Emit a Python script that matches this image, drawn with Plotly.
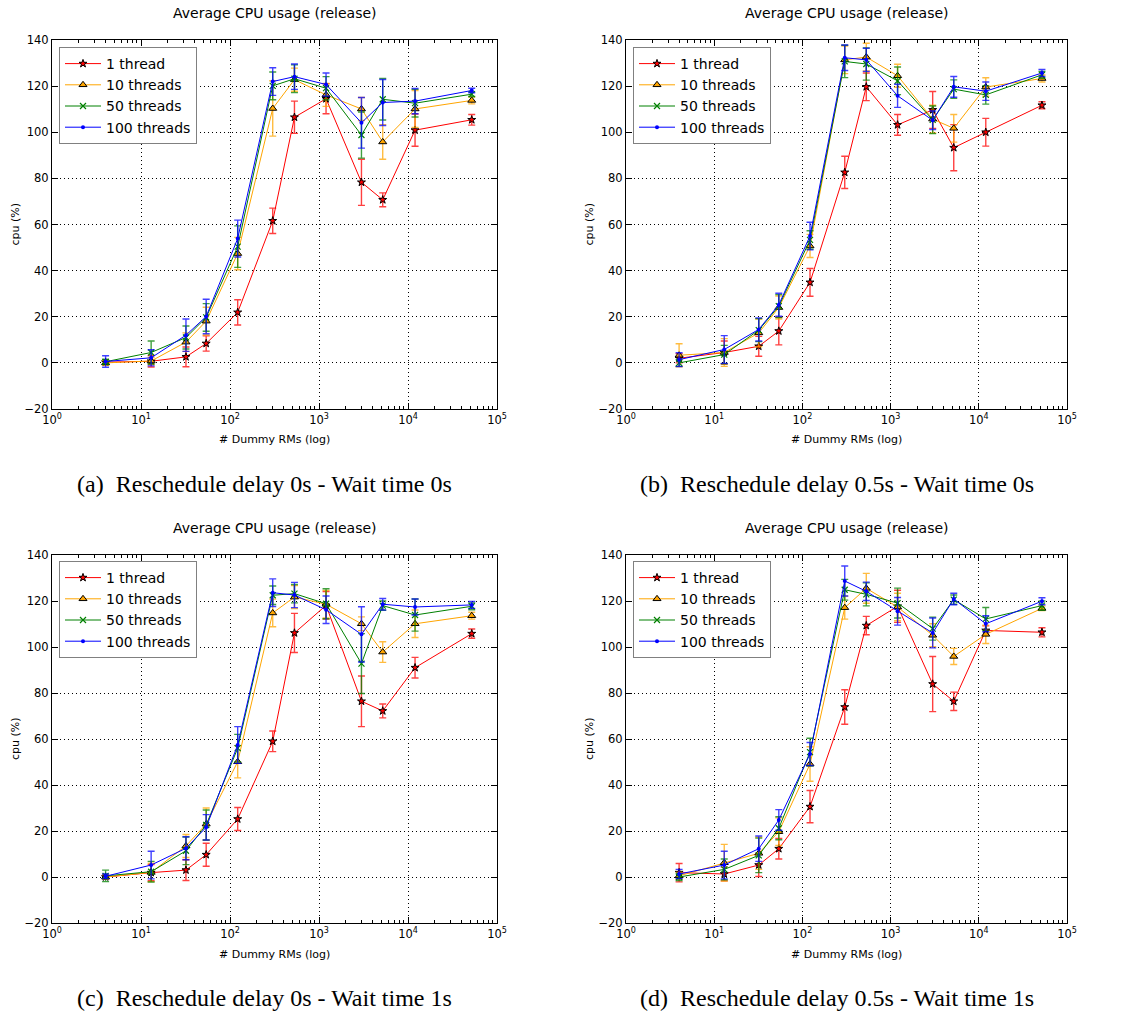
import plotly.graph_objects as go

# ---------------- data ----------------
X = [4, 13, 32, 54, 122, 302, 530, 1200, 3000, 5200, 12000, 52000]
SERIES = ["1 thread", "10 threads", "50 threads", "100 threads"]
X_TICKVALS = [1, 10, 100, 1000, 10000, 100000]
X_TICKTEXT = ["10<sup>0</sup>", "10<sup>1</sup>", "10<sup>2</sup>", "10<sup>3</sup>", "10<sup>4</sup>", "10<sup>5</sup>"]
Y_TICKVALS = [-20, 0, 20, 40, 60, 80, 100, 120, 140]
CAPTIONS = ["(a)\u00a0\u00a0Reschedule delay 0s - Wait time 0s",
            "(b)\u00a0\u00a0Reschedule delay 0.5s - Wait time 0s",
            "(c)\u00a0\u00a0Reschedule delay 0s - Wait time 1s",
            "(d)\u00a0\u00a0Reschedule delay 0.5s - Wait time 1s"]
TITLE = "Average CPU usage (release)"

# Panel A: reschedule 0s, wait 0s
A_1T = [0.3, 0.7, 2.6, 8.4, 21.9, 61.6, 106.5, 114.5, 78.3, 70.7, 100.9, 105.4]
A_1T_ERR = [1, 2.5, 4.3, 3.3, 5.5, 5.5, 7, 6.5, 10, 3, 7, 2.3]
A_10T = [0, 0.8, 9, 18.1, 47.4, 110.3, 122.8, 116.2, 110.1, 95.8, 110.1, 113.8]
A_10T_ERR = [1, 1.5, 4, 6, 7, 12, 5, 5, 5, 7.5, 8, 1.5]
A_50T = [0.5, 4.5, 11, 19.7, 50.4, 120.1, 123.2, 119.1, 98.8, 114.3, 112.6, 116.5]
A_50T_ERR = [1, 5, 5, 6, 9, 6, 6, 5, 10, 9, 6, 1]
A_100T = [0.6, 2.2, 12, 20.1, 53.9, 122, 124.1, 120.7, 104.1, 112.9, 113.5, 118.1]
A_100T_ERR = [2.5, 3.5, 7, 7.5, 8, 6, 5.5, 5, 11, 10, 5.5, 1]

# Panel B: reschedule 0.5s, wait 0s
B_1T = [2, 4.5, 7.2, 13.8, 34.9, 82.6, 119.7, 103.2, 109.7, 93.3, 100, 111.7]
B_1T_ERR = [2, 5, 4.3, 6, 6, 7, 6, 4.5, 8, 10, 6, 1.5]
B_10T = [3.3, 4.5, 13, 24, 50.7, 131.4, 132.6, 124.5, 105.7, 101.7, 119.6, 123.3]
B_10T_ERR = [5, 6, 6, 5, 5, 6, 6, 5, 6, 6, 4, 1.5]
B_50T = [0, 3.6, 14.2, 24.6, 53.3, 130.7, 129.6, 122.3, 105.4, 118.7, 116.2, 124.9]
B_50T_ERR = [1.5, 4, 5, 5, 4, 7, 7, 6, 6, 4, 4, 1.5]
B_100T = [1.4, 5.8, 14.5, 25.2, 55, 132.3, 131.4, 115.8, 105.2, 119.7, 117.8, 125.7]
B_100T_ERR = [3, 6, 5, 5, 6, 5.5, 5, 5, 4, 4.5, 4, 1.5]

# Panel C: reschedule 0s, wait 1s
C_1T = [0, 1.9, 3, 9.7, 25.2, 59, 106.1, 118.1, 76.4, 72.2, 91, 105.8]
C_1T_ERR = [1, 3.5, 4.5, 5, 5, 4.5, 8.5, 6, 11, 3, 4.5, 2]
C_10T = [0, 2, 13.5, 23, 50.1, 114.8, 121.7, 118.6, 110.1, 97.8, 110.1, 113.6]
C_10T_ERR = [1, 4, 5, 7, 7, 6, 5, 6, 3, 4.5, 6, 1.5]
C_50T = [0.5, 2.3, 11.4, 22.6, 56, 122.5, 123.2, 118.8, 92.8, 118, 113.9, 117.7]
C_50T_ERR = [2.5, 4.5, 6, 6.5, 6, 4, 4, 6.5, 13, 2, 7, 1.5]
C_100T = [0.3, 5.2, 12.5, 21.6, 57.4, 123.6, 122.6, 116.2, 105.5, 118.6, 117.4, 118.3]
C_100T_ERR = [1, 6, 5, 5.5, 8, 6, 5.5, 6, 12, 2.5, 3.5, 1.5]

# Panel D: reschedule 0.5s, wait 1s
D_1T = [1.9, 1.3, 5.2, 12.3, 30.6, 73.9, 109.3, 117.7, 83.9, 76.4, 107.2, 106.4]
D_1T_ERR = [4, 3, 5, 4.5, 7, 7.5, 4, 7, 12, 4, 2, 2]
D_10T = [0.5, 6.2, 10.3, 19.7, 49.1, 117.1, 125.5, 117.4, 105.1, 95.9, 105.5, 116.8]
D_10T_ERR = [1.5, 8, 7, 6, 7.5, 5, 6.5, 6, 5, 3.5, 4, 1]
D_50T = [0, 3.3, 9.4, 21.2, 54.3, 124.9, 122.9, 119.1, 108, 120.6, 112.2, 118]
D_50T_ERR = [1.5, 4.5, 7.5, 5, 6, 4.5, 5, 6.5, 5, 2, 5, 2]
D_100T = [1.3, 5.2, 12.3, 24.8, 53.5, 128.7, 124.2, 115.5, 106.1, 120.9, 110.1, 119.9]
D_100T_ERR = [2, 6, 5.5, 4.5, 5, 6.5, 4, 6, 6.5, 2.5, 3.5, 1.5]

PANELS = [
    [(A_1T, A_1T_ERR), (A_10T, A_10T_ERR), (A_50T, A_50T_ERR), (A_100T, A_100T_ERR)],
    [(B_1T, B_1T_ERR), (B_10T, B_10T_ERR), (B_50T, B_50T_ERR), (B_100T, B_100T_ERR)],
    [(C_1T, C_1T_ERR), (C_10T, C_10T_ERR), (C_50T, C_50T_ERR), (C_100T, C_100T_ERR)],
    [(D_1T, D_1T_ERR), (D_10T, D_10T_ERR), (D_50T, D_50T_ERR), (D_100T, D_100T_ERR)],
]

# ---------------- styles ----------------
W, H = 1124, 1013
COLORS = ["#ff0000", "#ffa500", "#008000", "#0000ff"]
ERR_COLORS = ["rgba(255,0,0,0.75)", "rgba(255,165,0,0.75)", "rgba(0,128,0,0.75)", "rgba(0,0,255,0.75)"]
MARKERS = [
    dict(symbol="star", size=6, color="#ff0000", line=dict(color="black", width=1)),
    dict(symbol="triangle-up", size=7, color="#ffa500", line=dict(color="black", width=1)),
    dict(symbol="x-thin", size=6, color="#008000", line=dict(color="#008000", width=1.2)),
    dict(symbol="circle", size=4, color="#0000ff", line=dict(color="#0000ff", width=0)),
]

# pixel boxes (screen coordinates) of the four plot areas (left, right, top, bottom)
BOXES = [(52, 497, 40, 409), (626, 1067, 40, 409), (52, 497, 555, 923), (626, 1067, 555, 923)]
LEGEND_POS = [(59, 47), (633, 47), (59, 561), (633, 561)]

FONT = "DejaVu Sans"
fig = go.Figure()
minor_vals = [m * 10 ** e for e in range(0, 5) for m in range(2, 10)]


def px(x):
    return x / W


def py(y):
    return 1 - y / H


layout = dict(width=W, height=H, margin=dict(l=0, r=0, t=0, b=0, autoexpand=False),
              paper_bgcolor="white", plot_bgcolor="white",
              font=dict(family=FONT, color="black"), annotations=[])

for p, (box, panel) in enumerate(zip(BOXES, PANELS)):
    idx = "" if p == 0 else str(p + 1)
    xa, ya = "x" + idx, "y" + idx
    legname = "legend" + idx
    for s, (vals, errs) in enumerate(panel):
        fig.add_trace(go.Scatter(
            x=X, y=vals, mode="lines+markers", name=SERIES[s],
            xaxis=xa, yaxis=ya, legend=legname,
            line=dict(color=COLORS[s], width=1),
            marker=MARKERS[s],
            error_y=dict(type="data", array=errs, visible=True,
                         color=ERR_COLORS[s], thickness=1.4, width=3.5),
        ))
    l, r, t, b = box
    common_axis = dict(showline=True, linecolor="black", linewidth=1, mirror="ticks",
                       ticks="inside", tickcolor="black", ticklen=6, tickwidth=1,
                       showgrid=True, gridcolor="black", griddash="1px,3px", gridwidth=1,
                       zeroline=False, automargin=False,
                       tickfont=dict(family=FONT, size=11.5, color="black"))
    layout["xaxis" + idx] = dict(common_axis, type="log", range=[0, 5],
                                 domain=[px(l), px(r)], anchor=ya,
                                 tickmode="array", tickvals=X_TICKVALS, ticktext=X_TICKTEXT,
                                 minor=dict(tickmode="array", tickvals=minor_vals, ticks="inside",
                                            ticklen=3, tickcolor="black", showgrid=False))
    layout["yaxis" + idx] = dict(common_axis, range=[-20, 140],
                                 domain=[py(b), py(t)], anchor=xa,
                                 tickmode="array", tickvals=Y_TICKVALS)
    lx, ly = LEGEND_POS[p]
    layout[legname] = dict(x=px(lx), y=py(ly), xanchor="left", yanchor="top",
                           bgcolor="white", bordercolor="#808080", borderwidth=1,
                           itemwidth=36,
                           font=dict(family=FONT, size=14, color="black"))
    cx = (l + r) / 2
    layout["annotations"] += [
        dict(text=TITLE, x=px(cx), y=py(t - 27), xref="paper", yref="paper",
             showarrow=False, xanchor="center", yanchor="middle",
             font=dict(family=FONT, size=14, color="black")),
        dict(text="# Dummy RMs (log)", x=px(cx), y=py(b + 31), xref="paper", yref="paper",
             showarrow=False, xanchor="center", yanchor="middle",
             font=dict(family=FONT, size=11, color="black")),
        dict(text="cpu (%)", x=px(l - 37), y=py((t + b) / 2), xref="paper", yref="paper",
             showarrow=False, xanchor="center", yanchor="middle", textangle=-90,
             font=dict(family=FONT, size=11, color="black")),
        dict(text=CAPTIONS[p], x=px(cx - 10), y=py(b + 75), xref="paper", yref="paper",
             showarrow=False, xanchor="center", yanchor="middle",
             font=dict(family="Liberation Serif", size=24, color="black")),
    ]

fig.update_layout(**layout)
fig.write_html("out.html", config={"displayModeBar": False},
               post_script="document.body.style.margin='0';document.body.style.overflow='hidden';")
